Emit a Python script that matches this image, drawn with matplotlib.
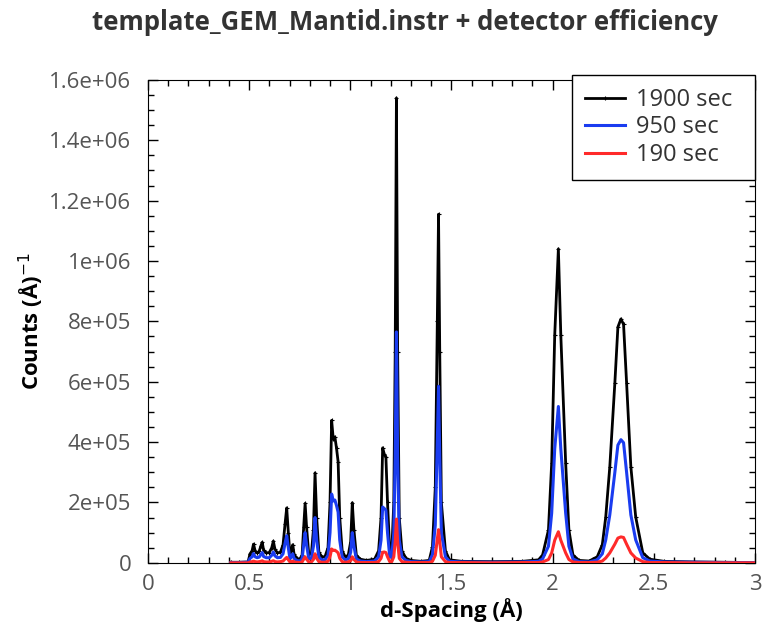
"""
Diffraction pattern for three counting times
"""
import matplotlib
matplotlib.use("Agg")
import matplotlib.pyplot as plt
from matplotlib.ticker import MultipleLocator

TITLE = "template_GEM_Mantid.instr + detector efficiency"
labels = ["1900 sec", "950 sec", "190 sec"]
colors = ["#000000", "#1a3cf0", "#ff2a2a"]

# d-spacing (Angstrom)
d_spacing = [
    0.410, 0.450, 0.495, 0.505, 0.515, 0.522, 0.530, 0.540, 0.550, 0.558,
    0.565, 0.572, 0.585, 0.600, 0.612, 0.620, 0.628, 0.640, 0.655, 0.668,
    0.678, 0.686, 0.694, 0.702, 0.710, 0.716, 0.722, 0.735, 0.750, 0.762,
    0.770, 0.777, 0.784, 0.795, 0.808, 0.818, 0.826, 0.834, 0.845, 0.860,
    0.875, 0.890, 0.900, 0.908, 0.916, 0.924, 0.932, 0.940, 0.948, 0.960,
    0.975, 0.990, 1.002, 1.010, 1.018, 1.030, 1.050, 1.080, 1.100, 1.120,
    1.140, 1.152, 1.160, 1.168, 1.176, 1.184, 1.195, 1.205, 1.215, 1.222,
    1.228, 1.234, 1.242, 1.255, 1.275, 1.300, 1.350, 1.390, 1.406, 1.420,
    1.430, 1.436, 1.442, 1.450, 1.470, 1.490, 1.550, 1.700, 1.850, 1.930,
    1.950, 1.979, 1.995, 2.010, 2.028, 2.040, 2.064, 2.080, 2.100, 2.130,
    2.180, 2.220, 2.245, 2.262, 2.282, 2.307, 2.322, 2.337, 2.350, 2.365,
    2.386, 2.410, 2.445, 2.480, 2.550, 2.700, 2.850, 3.000,
]

# counts in thousands
counts_1900 = [
    2, 2, 3, 30, 40, 62, 40, 33, 38, 55,
    68, 42, 33, 34, 50, 72, 45, 33, 35, 60,
    130, 182, 100, 28, 45, 60, 30, 15, 12, 25,
    120, 197, 120, 28, 30, 110, 298, 150, 35, 20,
    20, 50, 200, 472, 410, 417, 380, 335, 150, 40,
    20, 25, 70, 199, 110, 25, 12, 8, 10, 12,
    40, 150, 381, 360, 351, 200, 40, 35, 200, 700,
    1540, 700, 150, 40, 15, 8, 5, 8, 53, 250,
    800, 1155, 700, 200, 40, 10, 5, 4, 5, 10,
    26, 109, 331, 755, 1040, 755, 331, 109, 26, 8,
    6, 20, 60, 152, 318, 596, 781, 808, 790, 596,
    318, 152, 33, 12, 5, 3, 2, 1,
]

counts_950 = [
    1, 1, 2, 15, 20, 31, 20, 17, 19, 27,
    34, 21, 17, 17, 25, 36, 23, 17, 18, 30,
    65, 90, 50, 14, 22, 30, 15, 8, 6, 13,
    60, 100, 60, 14, 15, 55, 150, 75, 18, 10,
    10, 25, 100, 228, 205, 208, 190, 168, 75, 20,
    10, 13, 35, 100, 55, 13, 6, 4, 5, 6,
    20, 75, 185, 180, 175, 100, 20, 18, 100, 350,
    765, 350, 75, 20, 8, 4, 3, 4, 27, 125,
    400, 585, 350, 100, 20, 5, 3, 2, 3, 5,
    13, 55, 165, 378, 518, 378, 165, 55, 13, 4,
    3, 10, 30, 76, 159, 300, 390, 408, 398, 300,
    159, 76, 17, 6, 3, 2, 1, 1,
]

counts_190 = [
    0, 0, 0, 3, 4, 6, 4, 3, 4, 5,
    7, 4, 3, 3, 5, 7, 4, 3, 4, 6,
    13, 18, 10, 3, 4, 6, 3, 2, 1, 3,
    12, 20, 12, 3, 3, 11, 30, 15, 4, 2,
    2, 5, 20, 46, 41, 42, 38, 33, 15, 4,
    2, 3, 7, 20, 11, 3, 1, 1, 1, 1,
    4, 15, 35, 36, 34, 20, 4, 4, 20, 70,
    145, 70, 15, 4, 2, 1, 1, 1, 5, 25,
    78, 110, 70, 20, 4, 1, 1, 0, 1, 1,
    3, 11, 33, 75, 103, 75, 33, 11, 3, 1,
    1, 2, 6, 16, 33, 62, 82, 86, 84, 62,
    33, 16, 4, 1, 1, 0, 0, 0,
]

series = [counts_1900, counts_950, counts_190]

fig = plt.figure(figsize=(7.62, 6.24), dpi=100)
ax = fig.add_axes([0.194, 0.098, 0.797, 0.774])

for i, (vals, lab, col) in enumerate(zip(series, labels, colors)):
    y = [v * 1000 for v in vals]
    if i == 0:
        ax.plot(d_spacing, y, color=col, lw=2.0, marker="+", ms=3, mew=0.8,
                label=lab, zorder=2)
    else:
        ax.plot(d_spacing, y, color=col, lw=2.2, label=lab, zorder=2 + i)

ax.set_xlim(0, 3)
ax.set_ylim(0, 1.6e6)
ax.xaxis.set_major_locator(MultipleLocator(0.5))
ax.xaxis.set_minor_locator(MultipleLocator(0.1))
ax.yaxis.set_major_locator(MultipleLocator(2e5))
ax.yaxis.set_minor_locator(MultipleLocator(5e4))

ytick_vals = [0, 2e5, 4e5, 6e5, 8e5, 1e6, 1.2e6, 1.4e6, 1.6e6]
ytick_text = ["0", "2e+05", "4e+05", "6e+05", "8e+05", "1e+06", "1.2e+06", "1.4e+06", "1.6e+06"]
xtick_vals = [0, 0.5, 1, 1.5, 2, 2.5, 3]
xtick_text = ["0", "0.5", "1", "1.5", "2", "2.5", "3"]
ax.set_yticks(ytick_vals, ytick_text)
ax.set_xticks(xtick_vals, xtick_text)

font = "Open Sans"
ax.tick_params(which="both", direction="in", top=True, right=True,
               labelsize=16, labelcolor="#555555", width=1)
ax.tick_params(which="major", length=7)
ax.tick_params(which="minor", length=4)
ax.tick_params(axis="y", pad=12)
ax.tick_params(axis="x", pad=8)
for lbl in ax.get_xticklabels() + ax.get_yticklabels():
    lbl.set_family(font)

ax.set_xlabel("d-Spacing (Å)", fontsize=16, fontweight="bold", family=font, labelpad=2)
ax.set_ylabel("Counts (Å)$^{-1}$", fontsize=16, fontweight="bold", family=font, labelpad=2)
fig.suptitle(TITLE, fontsize=18.5, fontweight="bold", family=font, color="#333333",
             x=0.532, y=0.985)

leg = ax.legend(loc="upper left", bbox_to_anchor=(0.6985, 0.8095, 0.3015, 0.2009),
                mode="expand", borderaxespad=0,
                fancybox=False, framealpha=1, edgecolor="black",
                prop={"family": font, "size": 17},
                handlelength=1.7, handletextpad=0.45, borderpad=0.55, labelspacing=0.15)
for txt in leg.get_texts():
    txt.set_color("#333333")
leg.get_frame().set_linewidth(1.0)

fig.savefig("out.png", dpi=100)
